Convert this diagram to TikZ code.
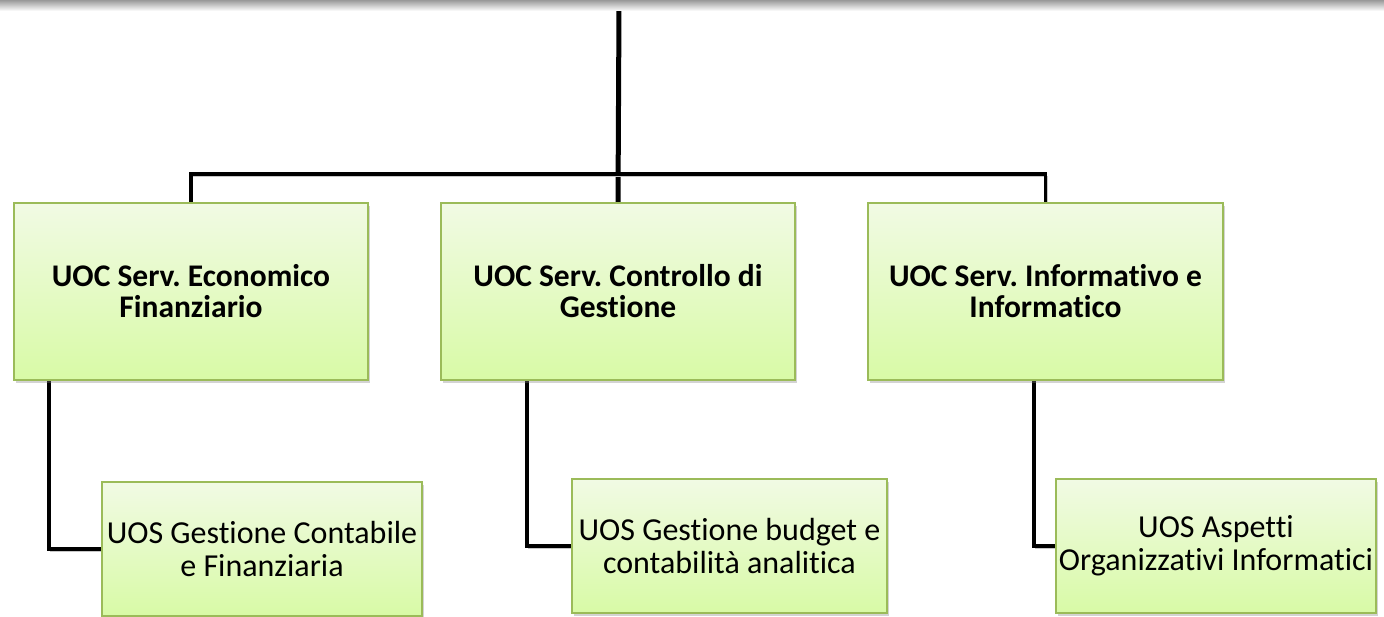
\documentclass[tikz,border=0pt]{standalone}
\usepackage{fontspec}
\setmainfont{Carlito}[Ligatures=CommonOff]
\usetikzlibrary{shadows,backgrounds}
\definecolor{boxline}{RGB}{155,187,89}
\definecolor{boxtop}{RGB}{241,250,228}
\definecolor{boxbot}{RGB}{216,250,166}
\tikzset{
  unit/.style={draw=boxline, line width=2pt, top color=boxtop, bottom color=boxbot,
    drop shadow={shadow xshift=2pt, shadow yshift=-3pt, opacity=.35},
    align=center, inner sep=2pt},
  uoc/.style={unit, minimum width=354pt, minimum height=177pt,
    font=\fontsize{31.5}{31}\selectfont\bfseries},
  uos/.style={unit, minimum width=320pt, minimum height=134pt,
    font=\fontsize{32}{33}\selectfont},
  link/.style={line width=3.2pt, line cap=rect,
    preaction={draw=black!22, transform canvas={shift={(1.5pt,-2pt)}}}}
}
\frenchspacing
\begin{document}
\begin{tikzpicture}[x=1pt,y=-1pt]
  \useasboundingbox (0,0) rectangle (1384,617);
  %% top band
  \shade[top color=black!40, bottom color=white] (0,0) rectangle (1384,11);

  \coordinate (top) at (619,7);

  %% first level
  \node[uoc] (uoc1) at (191,291.5) {UOC Serv. Economico\\Finanziario};
  \node[uoc] (uoc2) at (618,291.5) {UOC Serv. Controllo di\\Gestione};
  \node[uoc, minimum width=355pt] (uoc3) at (1045.5,291.5) {UOC Serv. Informativo e\\Informatico};

  %% second level
  \node[uos] (uos1) at (262,549) {UOS Gestione Contabile\\e Finanziaria};
  \node[uos, minimum width=315pt] (uos2) at (729.5,546) {UOS Gestione budget e\\contabilità analitica};
  \node[uos] (uos3) at (1216,546) {UOS Aspetti\\Organizzativi Informatici};

  %% connectors
  \begin{scope}[on background layer]
  \draw[link, line width=5pt] (top) -- (uoc2.north);
  \draw[link] (uoc1.north) -- ++(0,-28) -| (uoc3.north);
  \draw[link] (49,0 |- uoc1.south) |- (uos1.west);
  \draw[link] (527,0 |- uoc2.south) |- (uos2.west);
  \draw[link] (1034,0 |- uoc3.south) |- (uos3.west);
  \end{scope}
\end{tikzpicture}
\end{document}
